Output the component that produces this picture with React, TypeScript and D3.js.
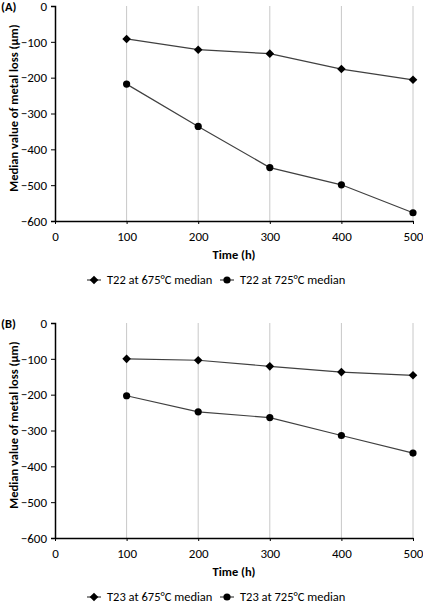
import React, { useEffect, useRef } from "react";
import * as d3 from "d3";

const hours = [100, 200, 300, 400, 500];

const t22At675 = [-92, -122, -133, -176, -206];
const t22At725 = [-218, -336, -451, -499, -577];
const t23At675 = [-100, -104, -121, -137, -146];
const t23At725 = [-203, -248, -264, -314, -363];

const xTicks = [0, 100, 200, 300, 400, 500];
const yTicks = [0, -100, -200, -300, -400, -500, -600];

type Series = { name: string; values: number[]; marker: "diamond" | "circle" };

type PanelProps = {
    label: string;
    top: number;
    series: Series[];
};

const FONT = "Carlito, Lato, sans-serif";

const Panel: React.FC<PanelProps> = ({ label, top, series }) => {
    const gRef = useRef<SVGGElement | null>(null);

    useEffect(() => {
        const left = 55;
        const width = 358;
        const height = 215;
        const plotTop = top + 6;

        const g = d3.select(gRef.current);
        g.selectAll("*").remove();

        const x = d3.scaleLinear().domain([0, 500]).range([left, left + width]);
        const y = d3.scaleLinear().domain([-600, 0]).range([plotTop + height, plotTop]);

        // panel letter
        g.append("text")
            .attr("x", 1)
            .attr("y", top + 11)
            .style("font-family", FONT)
            .style("font-size", "12.5px")
            .style("font-weight", "bold")
            .text(label);

        // vertical gridlines
        g.selectAll(".grid")
            .data(hours)
            .enter()
            .append("line")
            .attr("x1", (d) => x(d))
            .attr("x2", (d) => x(d))
            .attr("y1", y(0))
            .attr("y2", y(-600))
            .attr("stroke", "#c8c8c8")
            .attr("stroke-width", 1);

        // y axis
        const yAxis = d3
            .axisLeft(y)
            .tickValues(yTicks)
            .tickSize(4)
            .tickPadding(4)
            .tickFormat(d3.format("d"));
        const ya = g.append("g").attr("transform", `translate(${left},0)`).call(yAxis);
        ya.select(".domain").attr("stroke", "#000").attr("stroke-width", 1.5);
        ya.selectAll("text")
            .style("font-family", FONT)
            .style("font-size", "13px")
            .attr("fill", "#000");

        // x axis
        const xAxis = d3
            .axisBottom(x)
            .tickValues(xTicks)
            .tickSize(3)
            .tickSizeOuter(0)
            .tickPadding(8)
            .tickFormat(d3.format("d"));
        const xa = g
            .append("g")
            .attr("transform", `translate(0,${y(-600)})`)
            .call(xAxis);
        xa.select(".domain").attr("stroke", "#000").attr("stroke-width", 1.5);
        xa.selectAll("text")
            .style("font-family", FONT)
            .style("font-size", "13px")
            .attr("fill", "#000");

        // axis titles
        g.append("text")
            .attr("x", x(250))
            .attr("y", y(-600) + 38)
            .attr("text-anchor", "middle")
            .style("font-family", FONT)
            .style("font-size", "12.5px")
            .style("font-weight", "bold")
            .text("Time (h)");

        g.append("text")
            .attr("transform", `translate(18,${plotTop + 102}) rotate(-90)`)
            .attr("text-anchor", "middle")
            .style("font-family", FONT)
            .style("font-size", "12.5px")
            .style("font-weight", "bold")
            .text("Median value of metal loss (\u03bcm)");

        const line = d3
            .line<number>()
            .x((_, i) => x(hours[i]))
            .y((d) => y(d));

        const drawMarker = (
            sel: d3.Selection<SVGGElement, unknown, null, undefined>,
            kind: "diamond" | "circle",
            cx: number,
            cy: number
        ) => {
            if (kind === "circle") {
                sel.append("circle").attr("cx", cx).attr("cy", cy).attr("r", 3.6).attr("fill", "#000");
            } else {
                sel.append("path")
                    .attr("d", `M${cx},${cy - 4.3}L${cx + 4.3},${cy}L${cx},${cy + 4.3}L${cx - 4.3},${cy}Z`)
                    .attr("fill", "#000");
            }
        };

        series.forEach((s) => {
            g.append("path")
                .datum(s.values)
                .attr("d", line)
                .attr("fill", "none")
                .attr("stroke", "#404040")
                .attr("stroke-width", 1.2);
            const mg = g.append("g") as d3.Selection<SVGGElement, unknown, null, undefined>;
            s.values.forEach((v, i) => drawMarker(mg, s.marker, x(hours[i]), y(v)));
        });

        // legend
        const legendY = y(-600) + 59;
        const legendX = [87, 220];
        series.forEach((s, i) => {
            const lg = g.append("g") as d3.Selection<SVGGElement, unknown, null, undefined>;
            lg.append("line")
                .attr("x1", legendX[i])
                .attr("x2", legendX[i] + 14)
                .attr("y1", legendY)
                .attr("y2", legendY)
                .attr("stroke", "#404040")
                .attr("stroke-width", 1.2);
            drawMarker(lg, s.marker, legendX[i] + 7, legendY);
            lg.append("text")
                .attr("x", legendX[i] + 20)
                .attr("y", legendY + 4)
                .style("font-family", FONT)
                .style("font-size", "12.5px")
                .attr("fill", "#000")
                .text(s.name);
        });
    }, [label, top, series]);

    return <g ref={gRef} />;
};

const panelA: Series[] = [
    { name: "T22 at 675\u00b0C median", values: t22At675, marker: "diamond" },
    { name: "T22 at 725\u00b0C median", values: t22At725, marker: "circle" },
];
const panelB: Series[] = [
    { name: "T23 at 675\u00b0C median", values: t23At675, marker: "diamond" },
    { name: "T23 at 725\u00b0C median", values: t23At725, marker: "circle" },
];

export default function App() {
    return (
        <svg
            width={423}
            height={604}
            style={{ position: "absolute", left: 0, top: 0, background: "#fff" }}
        >
            <Panel label="(A)" top={0} series={panelA} />
            <Panel label="(B)" top={317} series={panelB} />
        </svg>
    );
}
